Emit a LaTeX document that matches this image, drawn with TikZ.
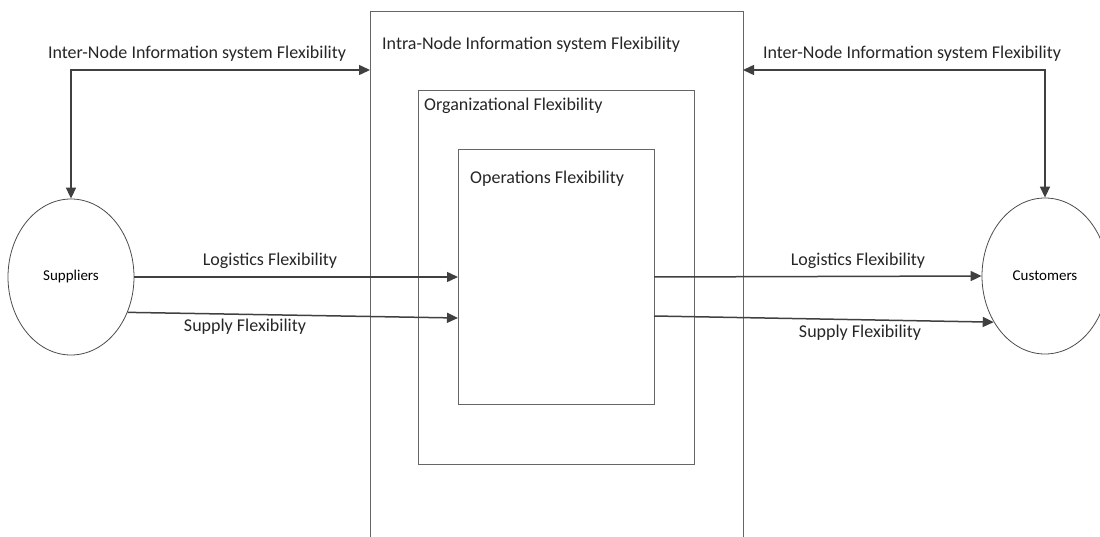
\documentclass[tikz,border=0pt]{standalone}
\usepackage{fontspec}
\setmainfont{Carlito}
\usetikzlibrary{shapes.geometric,arrows.meta}
\begin{document}
\begin{tikzpicture}[x=1pt,y=-1pt,
  lbl/.style={font=\fontsize{18}{20}\selectfont, inner sep=0pt, text=black!85},
  frame/.style={draw=black!60, line width=0.9pt},
  party/.style={ellipse, draw=black!70, line width=0.8pt, minimum width=126pt, minimum height=156pt, inner sep=0pt, font=\fontsize{15}{16}\selectfont},
  flow/.style={draw=black!75, line width=1.5pt, -{Triangle[length=11pt,width=10pt]}},
  flow2/.style={draw=black!75, line width=1.5pt, {Triangle[length=11pt,width=10pt]}-{Triangle[length=11pt,width=10pt]}}
]
\useasboundingbox (0,0) rectangle (1100,537);

% outer frame, open at the bottom
\coordinate (oBL) at (370,540);
\coordinate (oTL) at (370,11);
\coordinate (oTR) at (743,11);
\coordinate (oBR) at (743,540);
\draw[frame] (oBL) -- (oTL) -- (oTR) -- (oBR);
\coordinate (oL) at (370,70);
\coordinate (oR) at (743,70);

% nested boxes
\node[frame, draw, rectangle, minimum width=276pt, minimum height=374pt, inner sep=0pt] (org) at (556,277) {};
\node[frame, draw, rectangle, minimum width=196pt, minimum height=255pt, inner sep=0pt] (ops) at (556,276.5) {};

% parties
\node[party] (sup) at (71,277) {Suppliers};
\node[party] (cus) at (1045,276) {Customers};

% texts
\node[lbl, anchor=west] (tIntra) at (382,45) {Intra-Node Information system Flexibility};
\node[lbl, anchor=west] (tOrg) at (424,106) {Organizational Flexibility};
\node[lbl, anchor=west] (tOps) at (470,179) {Operations Flexibility};
\node[lbl] (tInterL) at (197,54) {Inter-Node Information system Flexibility};
\node[lbl] (tInterR) at (912,54) {Inter-Node Information system Flexibility};
\node[lbl] (tLogL) at (270,261) {Logistics Flexibility};
\node[lbl] (tSupL) at (245,327) {Supply Flexibility};
\node[lbl] (tLogR) at (858,261) {Logistics Flexibility};
\node[lbl] (tSupR) at (860,333) {Supply Flexibility};

% information links
\draw[flow2] (sup.north) |- (oL);
\draw[flow2] (oR) -| (cus.north);

% material links
\coordinate (opsInA) at (458,277);
\coordinate (opsInB) at (458,318);
\coordinate (opsOutA) at (654,277);
\coordinate (opsOutB) at (654,316);
\draw[flow] (sup.east) -- (opsInA);
\draw[flow] (sup.-32) -- (opsInB);
\draw[flow] (opsOutA) -- (cus.west);
\draw[flow] (opsOutB) -- (cus.222);
\end{tikzpicture}
\end{document}
